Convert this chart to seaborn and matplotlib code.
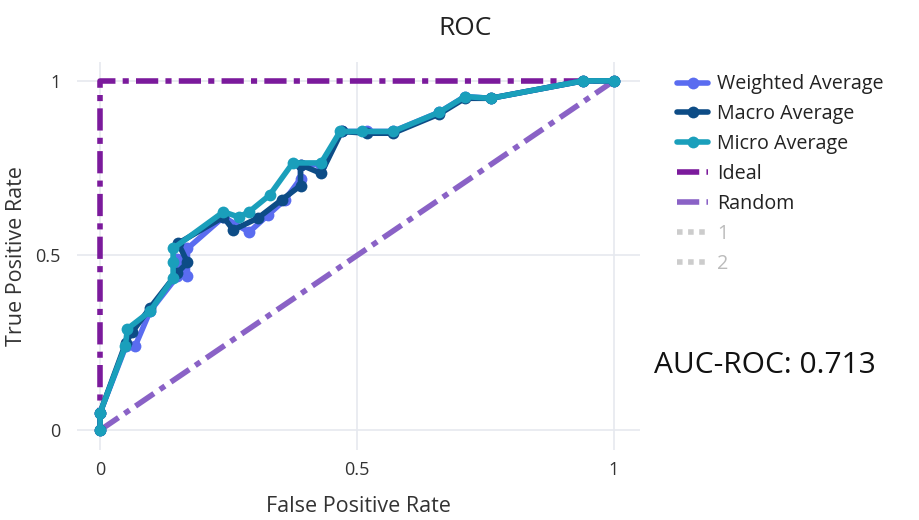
import matplotlib
matplotlib.use("Agg")
import matplotlib.pyplot as plt
import seaborn as sns
import pandas as pd
from matplotlib.lines import Line2D

# ---- data ----
weighted_fpr = [0.0, 0.0, 0.05, 0.068, 0.097, 0.15, 0.15, 0.17, 0.17, 0.24, 0.29, 0.327, 0.36, 0.39, 0.39, 0.43, 0.47, 0.52, 0.57, 0.66, 0.71, 0.76, 0.94, 1.0]
weighted_tpr = [0.0, 0.05, 0.24, 0.24, 0.34, 0.44, 0.49, 0.44, 0.52, 0.61, 0.567, 0.616, 0.66, 0.72, 0.76, 0.76, 0.855, 0.855, 0.855, 0.91, 0.955, 0.95, 1.0, 1.0]

macro_fpr = [0.0, 0.0, 0.05, 0.062, 0.097, 0.15, 0.17, 0.152, 0.24, 0.259, 0.307, 0.354, 0.39, 0.39, 0.43, 0.47, 0.52, 0.57, 0.66, 0.71, 0.76, 0.94, 1.0]
macro_tpr = [0.0, 0.05, 0.25, 0.28, 0.35, 0.45, 0.48, 0.535, 0.61, 0.573, 0.607, 0.66, 0.70, 0.76, 0.735, 0.855, 0.85, 0.85, 0.905, 0.95, 0.95, 1.0, 1.0]

micro_fpr = [0.0, 0.0, 0.049, 0.053, 0.097, 0.142, 0.142, 0.142, 0.24, 0.27, 0.29, 0.33, 0.375, 0.43, 0.467, 0.51, 0.57, 0.66, 0.71, 0.76, 0.94, 1.0]
micro_tpr = [0.0, 0.05, 0.24, 0.29, 0.34, 0.435, 0.48, 0.52, 0.625, 0.61, 0.625, 0.673, 0.765, 0.765, 0.855, 0.855, 0.855, 0.91, 0.955, 0.95, 1.0, 1.0]

ideal_fpr = [0.0, 0.0, 1.0]
ideal_tpr = [0.0, 1.0, 1.0]
random_fpr = [0.0, 1.0]
random_tpr = [0.0, 1.0]

tick_values = [0, 0.5, 1]
tick_labels = ["0", "0.5", "1"]
legend_labels = ["Weighted Average", "Macro Average", "Micro Average", "Ideal", "Random", "1", "2"]
auc_text = "AUC-ROC: 0.713"

sns.set_theme(style="white")
plt.rcParams['font.family'] = ['Open Sans', 'DejaVu Sans']

fig = plt.figure(figsize=(9.19, 5.2), dpi=100)
ax = fig.add_axes([0.0838, 0.1346, 0.6122, 0.7462])

grid_c = "#e6e9ef"
for v in tick_values:
    ax.axvline(v, color=grid_c, lw=1.2, zorder=0)
    ax.axhline(v, color=grid_c, lw=1.2, zorder=0)

lw = 4.0
ms = 8.5
dd = (4.0, 1.3, 1.1, 1.3)

C_W, C_MA, C_MI = "#5a6cf0", "#0d4c86", "#1a9fbb"
C_IDEAL, C_RAND = "#7b1a9c", "#8a62c6"

ideal_df = pd.DataFrame({"x": ideal_fpr, "y": ideal_tpr})
rand_df = pd.DataFrame({"x": random_fpr, "y": random_tpr})
sns.lineplot(data=ideal_df, x="x", y="y", sort=False, estimator=None, errorbar=None,
             ax=ax, color=C_IDEAL, lw=lw, zorder=2)
ax.lines[-1].set_dashes(dd)
sns.lineplot(data=rand_df, x="x", y="y", sort=False, estimator=None, errorbar=None,
             ax=ax, color=C_RAND, lw=lw, zorder=2)
ax.lines[-1].set_dashes(dd)

series = [
    (weighted_fpr, weighted_tpr, C_W),
    (macro_fpr, macro_tpr, C_MA),
    (micro_fpr, micro_tpr, C_MI),
]
for xs, ys, c in series:
    df = pd.DataFrame({"x": xs, "y": ys})
    sns.lineplot(data=df, x="x", y="y", sort=False, estimator=None, errorbar=None,
                 ax=ax, color=c, lw=lw, marker="o", markersize=ms,
                 markeredgewidth=0, zorder=3)

ax.set_xlim(-0.045, 1.05)
ax.set_ylim(-0.057, 1.054)
ax.set_xticks(tick_values)
ax.set_xticklabels(tick_labels)
ax.set_yticks(tick_values)
ax.set_yticklabels(tick_labels)
for s in ax.spines.values():
    s.set_visible(False)
ax.grid(False)
ax.tick_params(axis="both", length=0, labelsize=13, colors="#333333")
ax.tick_params(axis="x", pad=8)
ax.tick_params(axis="y", pad=12)
ax.set_xlabel("False Positive Rate", fontsize=15.5, color="#333333", labelpad=12)
ax.set_ylabel("True Positive Rate", fontsize=15.5, color="#333333", labelpad=6)

fig.text(0.506, 0.946, "ROC", ha="center", va="center", fontsize=19, color="#222222")
fig.text(0.832, 0.298, auc_text, ha="center", va="center", fontsize=21.5, color="#111111")

handles = [
    Line2D([], [], color=C_W, lw=lw, marker="o", markersize=ms, markeredgewidth=0),
    Line2D([], [], color=C_MA, lw=lw, marker="o", markersize=ms, markeredgewidth=0),
    Line2D([], [], color=C_MI, lw=lw, marker="o", markersize=ms, markeredgewidth=0),
    Line2D([], [], color=C_IDEAL, lw=lw, dashes=dd),
    Line2D([], [], color=C_RAND, lw=lw, dashes=dd),
    Line2D([], [], color="#cccccc", lw=lw, linestyle=(0, (1, 1))),
    Line2D([], [], color="#cccccc", lw=lw, linestyle=(0, (1, 1))),
]
leg = fig.legend(handles, legend_labels, loc="upper left", bbox_to_anchor=(0.728, 0.872),
                 frameon=False, fontsize=14.2, handlelength=1.6, handletextpad=0.45,
                 labelspacing=0.50, borderaxespad=0)
for t, lab in zip(leg.get_texts(), legend_labels):
    t.set_color("#bbbbbb" if lab in ("1", "2") else "#222222")

fig.savefig("out.png", dpi=100)
